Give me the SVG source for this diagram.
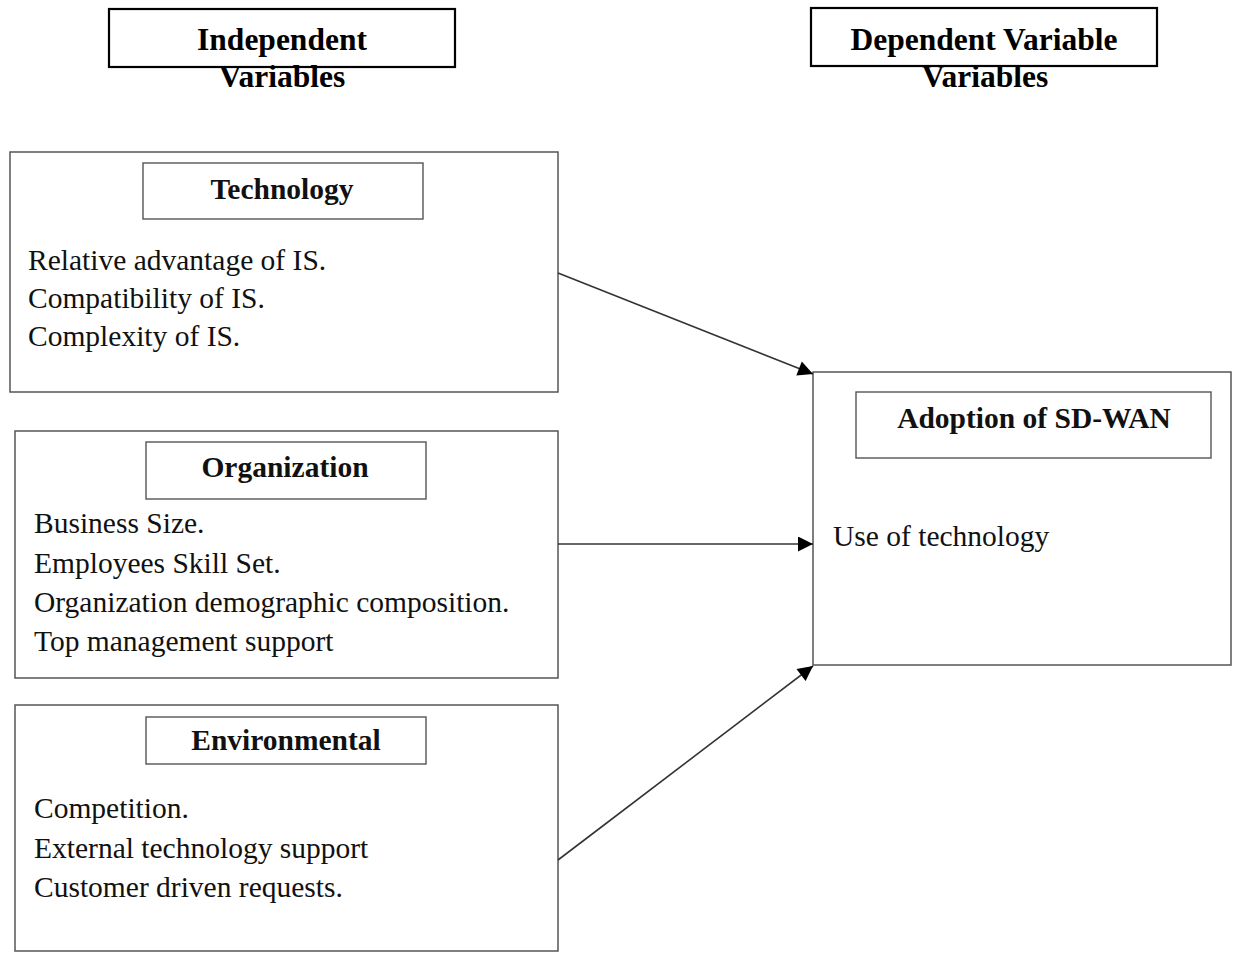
<svg xmlns="http://www.w3.org/2000/svg" width="1235" height="953" viewBox="0 0 1235 953">
  <defs>
    <marker id="arrow" viewBox="0 0 10 10" refX="10" refY="5" markerWidth="16" markerHeight="15" markerUnits="userSpaceOnUse" orient="auto">
      <path d="M0,0 L10,5 L0,10 z" fill="#000"/>
    </marker>
    <style>
      .hdr { fill: none; stroke: #000; stroke-width: 2.2; }
      .box { fill: #fff; stroke: #555; stroke-width: 1.5; }
      .inner { fill: #fff; stroke: #555; stroke-width: 1.4; }
      .hdrtxt { font-family: "Liberation Serif", "Times New Roman", serif; font-weight: bold; font-size: 31.5px; fill: #000; text-anchor: middle; }
      .title { font-family: "Liberation Serif", "Times New Roman", serif; font-weight: bold; font-size: 29.5px; fill: #111; text-anchor: middle; }
      .item { font-family: "Liberation Serif", "Times New Roman", serif; font-size: 29.5px; fill: #111; }
      .link { fill: none; stroke: #333; stroke-width: 1.6; marker-end: url(#arrow); }
    </style>
  </defs>
  <rect width="1235" height="953" fill="#fff"/>

  <!-- column headers -->
  <g id="hdr-independent">
    <rect class="hdr" x="109" y="9" width="346" height="58"/>
    <text class="hdrtxt" x="282" y="50">Independent</text>
    <text class="hdrtxt" x="282" y="87">Variables</text>
  </g>
  <g id="hdr-dependent">
    <rect class="hdr" x="811" y="8" width="346" height="58"/>
    <text class="hdrtxt" x="984" y="50">Dependent Variable</text>
    <text class="hdrtxt" x="985" y="87">Variables</text>
  </g>

  <!-- independent variable groups -->
  <g id="technology">
    <rect class="box" x="10" y="152" width="548" height="240"/>
    <rect class="inner" x="143" y="163" width="280" height="56"/>
    <text class="title" x="282" y="199">Technology</text>
    <text class="item" x="28" y="270">Relative advantage of IS.</text>
    <text class="item" x="28" y="308">Compatibility of IS.</text>
    <text class="item" x="28" y="346">Complexity of IS.</text>
  </g>
  <g id="organization">
    <rect class="box" x="15" y="431" width="543" height="247"/>
    <rect class="inner" x="146" y="442" width="280" height="57"/>
    <text class="title" x="285" y="477">Organization</text>
    <text class="item" x="34" y="533">Business Size.</text>
    <text class="item" x="34" y="573">Employees Skill Set.</text>
    <text class="item" x="34" y="612">Organization demographic composition.</text>
    <text class="item" x="34" y="651">Top management support</text>
  </g>
  <g id="environmental">
    <rect class="box" x="15" y="705" width="543" height="246"/>
    <rect class="inner" x="146" y="717" width="280" height="47"/>
    <text class="title" x="286" y="750">Environmental</text>
    <text class="item" x="34" y="818">Competition.</text>
    <text class="item" x="34" y="858">External technology support</text>
    <text class="item" x="34" y="897">Customer driven requests.</text>
  </g>

  <!-- dependent variable -->
  <g id="adoption">
    <rect class="box" x="813" y="372" width="418" height="293"/>
    <rect class="inner" x="856" y="392" width="355" height="66"/>
    <text class="title" x="1034" y="428">Adoption of SD-WAN</text>
    <text class="item" x="833" y="546">Use of technology</text>
  </g>

  <!-- connectors -->
  <g id="connectors">
    <line class="link" x1="558" y1="273" x2="813" y2="374"/>
    <line class="link" x1="558" y1="544" x2="813" y2="544"/>
    <line class="link" x1="558" y1="860" x2="813" y2="666"/>
  </g>
</svg>
